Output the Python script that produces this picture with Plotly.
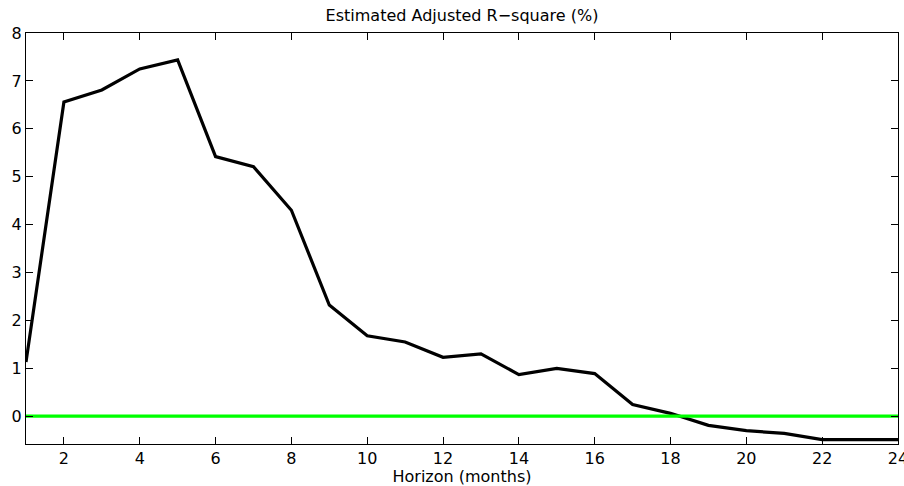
import plotly.graph_objects as go

horizon = list(range(1, 25))
adj_r2 = [1.13, 6.56, 6.81, 7.25, 7.44, 5.42, 5.21, 4.30, 2.32, 1.68, 1.55, 1.23,
          1.30, 0.87, 1.00, 0.89, 0.245, 0.06, -0.19, -0.30, -0.36, -0.49, -0.49, -0.49]
zero_x = [1, 24]
zero_y = [0, 0]
x_ticks = list(range(2, 25, 2))
y_ticks = list(range(0, 9))

fig = go.Figure()
fig.add_trace(go.Scatter(x=horizon, y=adj_r2, mode="lines",
                         line=dict(color="black", width=3.2), showlegend=False))
fig.add_trace(go.Scatter(x=zero_x, y=zero_y, mode="lines",
                         line=dict(color="#00ff00", width=3.2), showlegend=False))

family = "DejaVu Sans, Liberation Sans, Arial, sans-serif"
font = dict(family=family, size=16, color="black")

fig.update_layout(
    width=904, height=486,
    margin=dict(l=26, r=6, t=33, b=42, pad=0, autoexpand=False),
    paper_bgcolor="white", plot_bgcolor="white",
    font=font,
    title=dict(text="Estimated Adjusted R\u2212square (%)", x=0.5, xanchor="center",
               xref="paper", y=1 - 15 / 486, yref="container", yanchor="middle",
               font=dict(family=family, size=16, color="black")),
    xaxis=dict(range=[1, 24], tickvals=x_ticks, ticks="inside", ticklen=7,
               tickcolor="black", tickwidth=1, showline=True, linecolor="black",
               linewidth=1, mirror="ticks", showgrid=False, zeroline=False,
               ticklabeloverflow="allow", tickfont=font, automargin=False,
               title=dict(text="Horizon (months)", standoff=2, font=font)),
    yaxis=dict(range=[-0.58, 8], tickvals=y_ticks, ticks="inside", ticklen=7,
               tickcolor="black", tickwidth=1, showline=True, linecolor="black",
               linewidth=1, mirror="ticks", showgrid=False, zeroline=False,
               tickfont=font, automargin=False),
)

fig.write_html("out.html")
